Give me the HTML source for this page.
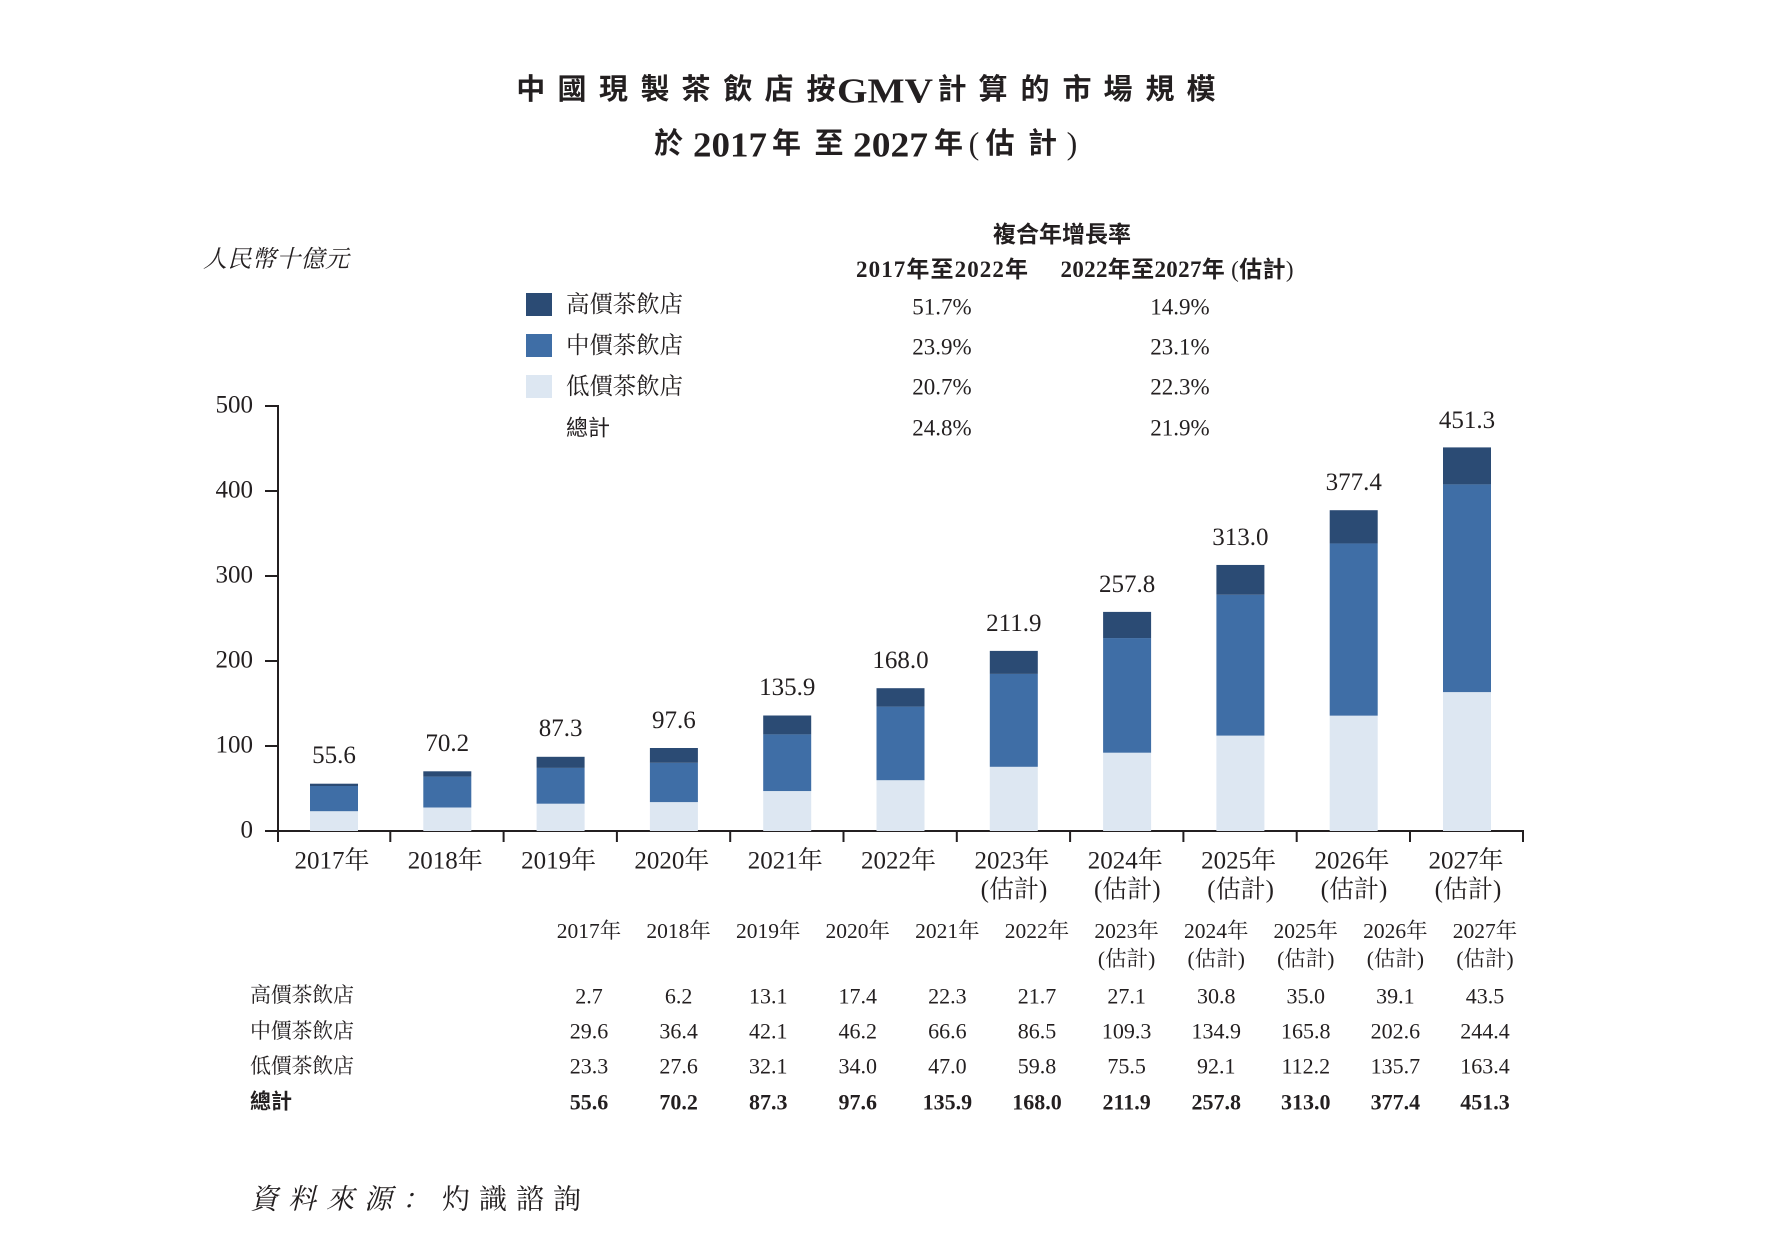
<!DOCTYPE html>
<html><head><meta charset="utf-8">
<style>
html,body{margin:0;padding:0;background:#fff;}
svg{display:block;}
.s{font-family:"Liberation Serif","Noto Serif CJK SC","Noto Serif CJK TC",serif;fill:#231f20;}
.h{font-family:"Liberation Sans","Noto Sans CJK TC","Noto Sans CJK SC",sans-serif;fill:#231f20;}
.d{fill:#2b4b74;} .m{fill:#3f6ea6;} .l{fill:#dde7f2;}
</style></head>
<body>
<svg width="1790" height="1248" viewBox="0 0 1790 1248" xmlns="http://www.w3.org/2000/svg">
<rect width="1790" height="1248" fill="#fff"/>

<!-- Title line 1 -->
<g class="h" font-size="29" font-weight="700" text-anchor="middle" dominant-baseline="central">
<text x="530.8" y="90">中</text><text x="572" y="90">國</text><text x="613.5" y="90">現</text><text x="655" y="90">製</text>
<text x="696" y="90">茶</text><text x="738" y="90">飲</text><text x="779" y="90">店</text><text x="821" y="90">按</text>
<text x="952" y="90">計</text><text x="993" y="90">算</text><text x="1035" y="90">的</text><text x="1077" y="90">市</text>
<text x="1118" y="90">場</text><text x="1160" y="90">規</text><text x="1201" y="90">模</text>
<text x="668.5" y="144">於</text><text x="786.5" y="144">年</text><text x="829" y="144">至</text><text x="948.5" y="144">年</text>
<text x="1000" y="144">估</text><text x="1042.5" y="144">計</text>
</g>
<g class="s" font-weight="700" text-anchor="middle" dominant-baseline="central">
<text x="885" y="91" font-size="35" textLength="96" lengthAdjust="spacingAndGlyphs">GMV</text>
<text x="730" y="145" font-size="35" textLength="74" lengthAdjust="spacingAndGlyphs">2017</text>
<text x="890.5" y="145" font-size="35" textLength="75" lengthAdjust="spacingAndGlyphs">2027</text>
</g>
<g class="s" font-size="32" text-anchor="middle" dominant-baseline="central">
<text x="974" y="143">(</text><text x="1072" y="143">)</text>
</g>

<!-- Y unit label -->
<text class="s" x="203" y="260" font-size="24" font-style="italic" dominant-baseline="central" textLength="146">人民幣十億元</text>

<!-- Legend -->
<rect class="d" x="526" y="293" width="26" height="23"/>
<rect class="m" x="526" y="334" width="26" height="23"/>
<rect class="l" x="526" y="375" width="26" height="23"/>
<g class="s" font-size="23.5" dominant-baseline="central">
<text x="566" y="305" textLength="117">高價茶飲店</text>
<text x="566" y="346" textLength="117">中價茶飲店</text>
<text x="566" y="387" textLength="117">低價茶飲店</text>
</g>
<text class="h" x="566" y="428" font-size="22" dominant-baseline="central">總計</text>

<!-- CAGR header -->
<text class="h" x="1062" y="234" font-size="23" font-weight="700" text-anchor="middle" dominant-baseline="central">複合年增長率</text>
<text x="942" y="269" font-size="23" font-weight="700" text-anchor="middle" dominant-baseline="central" textLength="172"><tspan class="s">2017</tspan><tspan class="h">年至</tspan><tspan class="s">2022</tspan><tspan class="h">年</tspan></text>
<text x="1177" y="269" font-size="23" font-weight="700" text-anchor="middle" dominant-baseline="central" textLength="233"><tspan class="s">2022</tspan><tspan class="h">年至</tspan><tspan class="s">2027</tspan><tspan class="h">年</tspan><tspan class="s" font-weight="400"> (</tspan><tspan class="h">估計</tspan><tspan class="s" font-weight="400">)</tspan></text>
<g class="s" font-size="23" text-anchor="middle" dominant-baseline="central">
<text x="942" y="307">51.7%</text><text x="1180" y="307">14.9%</text>
<text x="942" y="347">23.9%</text><text x="1180" y="347">23.1%</text>
<text x="942" y="387">20.7%</text><text x="1180" y="387">22.3%</text>
<text x="942" y="428">24.8%</text><text x="1180" y="428">21.9%</text>
</g>

<!-- Y axis -->
<g stroke="#231f20" stroke-width="2" fill="none">
<line x1="278" y1="405" x2="278" y2="842"/>
<line x1="265" y1="831" x2="1524" y2="831"/>
<line x1="265" y1="406" x2="278" y2="406"/>
<line x1="265" y1="491" x2="278" y2="491"/>
<line x1="265" y1="576" x2="278" y2="576"/>
<line x1="265" y1="661" x2="278" y2="661"/>
<line x1="265" y1="746" x2="278" y2="746"/>
<line x1="390.3" y1="831" x2="390.3" y2="842"/>
<line x1="503.6" y1="831" x2="503.6" y2="842"/>
<line x1="616.9" y1="831" x2="616.9" y2="842"/>
<line x1="730.2" y1="831" x2="730.2" y2="842"/>
<line x1="843.5" y1="831" x2="843.5" y2="842"/>
<line x1="956.8" y1="831" x2="956.8" y2="842"/>
<line x1="1070.1" y1="831" x2="1070.1" y2="842"/>
<line x1="1183.4" y1="831" x2="1183.4" y2="842"/>
<line x1="1296.7" y1="831" x2="1296.7" y2="842"/>
<line x1="1410" y1="831" x2="1410" y2="842"/>
<line x1="1523" y1="831" x2="1523" y2="842"/>
</g>
<g class="s" font-size="25" text-anchor="end" dominant-baseline="central">
<text x="253" y="405">500</text>
<text x="253" y="490">400</text>
<text x="253" y="575">300</text>
<text x="253" y="660">200</text>
<text x="253" y="745">100</text>
<text x="253" y="830">0</text>
</g>

<!-- Bars -->
<g>
<rect class="l" x="310" y="811.2" width="48" height="19.8"/><rect class="m" x="310" y="786.0" width="48" height="25.2"/><rect class="d" x="310" y="783.7" width="48" height="2.3"/>
<rect class="l" x="423.3" y="807.5" width="48" height="23.5"/><rect class="m" x="423.3" y="776.6" width="48" height="30.9"/><rect class="d" x="423.3" y="771.3" width="48" height="5.3"/>
<rect class="l" x="536.6" y="803.7" width="48" height="27.3"/><rect class="m" x="536.6" y="767.9" width="48" height="35.8"/><rect class="d" x="536.6" y="756.8" width="48" height="11.1"/>
<rect class="l" x="649.9" y="802.1" width="48" height="28.9"/><rect class="m" x="649.9" y="762.8" width="48" height="39.3"/><rect class="d" x="649.9" y="748.0" width="48" height="14.8"/>
<rect class="l" x="763.2" y="791.05" width="48" height="39.95"/><rect class="m" x="763.2" y="734.4" width="48" height="56.65"/><rect class="d" x="763.2" y="715.5" width="48" height="18.9"/>
<rect class="l" x="876.5" y="780.2" width="48" height="50.8"/><rect class="m" x="876.5" y="706.6" width="48" height="73.6"/><rect class="d" x="876.5" y="688.2" width="48" height="18.4"/>
<rect class="l" x="989.8" y="766.8" width="48" height="64.2"/><rect class="m" x="989.8" y="673.9" width="48" height="92.9"/><rect class="d" x="989.8" y="650.9" width="48" height="23.0"/>
<rect class="l" x="1103.1" y="752.7" width="48" height="78.3"/><rect class="m" x="1103.1" y="638.05" width="48" height="114.65"/><rect class="d" x="1103.1" y="611.9" width="48" height="26.15"/>
<rect class="l" x="1216.4" y="735.6" width="48" height="95.4"/><rect class="m" x="1216.4" y="594.7" width="48" height="140.9"/><rect class="d" x="1216.4" y="564.95" width="48" height="29.75"/>
<rect class="l" x="1329.7" y="715.65" width="48" height="115.35"/><rect class="m" x="1329.7" y="543.45" width="48" height="172.2"/><rect class="d" x="1329.7" y="510.2" width="48" height="33.25"/>
<rect class="l" x="1443" y="692.1" width="48" height="138.9"/><rect class="m" x="1443" y="484.4" width="48" height="207.7"/><rect class="d" x="1443" y="447.4" width="48" height="37.0"/>
</g>

<!-- Bar total labels -->
<g class="s" font-size="25" text-anchor="middle">
<text x="334" y="763">55.6</text>
<text x="447.3" y="751">70.2</text>
<text x="560.6" y="736">87.3</text>
<text x="673.9" y="728">97.6</text>
<text x="787.2" y="695">135.9</text>
<text x="900.5" y="668">168.0</text>
<text x="1013.8" y="631">211.9</text>
<text x="1127.1" y="592">257.8</text>
<text x="1240.4" y="545">313.0</text>
<text x="1353.7" y="490">377.4</text>
<text x="1467" y="428">451.3</text>
</g>

<!-- X labels -->
<g class="s" font-size="25" text-anchor="middle" dominant-baseline="central">
<text x="332" y="861">2017年</text>
<text x="445.3" y="861">2018年</text>
<text x="558.6" y="861">2019年</text>
<text x="671.9" y="861">2020年</text>
<text x="785.2" y="861">2021年</text>
<text x="898.5" y="861">2022年</text>
<text x="1012" y="861">2023年</text>
<text x="1125.3" y="861">2024年</text>
<text x="1238.6" y="861">2025年</text>
<text x="1352" y="861">2026年</text>
<text x="1466" y="861">2027年</text>
<text x="1014" y="890">(估計)</text>
<text x="1127.3" y="890">(估計)</text>
<text x="1240.6" y="890">(估計)</text>
<text x="1354" y="890">(估計)</text>
<text x="1468" y="890">(估計)</text>
</g>

<!-- Table header -->
<g class="s" font-size="21.5" text-anchor="middle" dominant-baseline="central">
<text x="589" y="931">2017年</text>
<text x="678.6" y="931">2018年</text>
<text x="768.2" y="931">2019年</text>
<text x="857.8" y="931">2020年</text>
<text x="947.4" y="931">2021年</text>
<text x="1037" y="931">2022年</text>
<text x="1126.6" y="931">2023年</text>
<text x="1216.2" y="931">2024年</text>
<text x="1305.8" y="931">2025年</text>
<text x="1395.4" y="931">2026年</text>
<text x="1485" y="931">2027年</text>
<text x="1126.6" y="959">(估計)</text>
<text x="1216.2" y="959">(估計)</text>
<text x="1305.8" y="959">(估計)</text>
<text x="1395.4" y="959">(估計)</text>
<text x="1485" y="959">(估計)</text>
</g>

<!-- Table rows -->
<g class="s" font-size="21" dominant-baseline="central">
<text x="250" y="995" textLength="104">高價茶飲店</text>
<text x="250" y="1031" textLength="104">中價茶飲店</text>
<text x="250" y="1066" textLength="104">低價茶飲店</text>
</g>
<text class="h" x="250" y="1102" font-size="21" font-weight="700" dominant-baseline="central">總計</text>
<g class="s" font-size="22" text-anchor="middle" dominant-baseline="central">
<text x="589" y="996">2.7</text><text x="678.6" y="996">6.2</text><text x="768.2" y="996">13.1</text><text x="857.8" y="996">17.4</text><text x="947.4" y="996">22.3</text><text x="1037" y="996">21.7</text><text x="1126.6" y="996">27.1</text><text x="1216.2" y="996">30.8</text><text x="1305.8" y="996">35.0</text><text x="1395.4" y="996">39.1</text><text x="1485" y="996">43.5</text>
<text x="589" y="1031">29.6</text><text x="678.6" y="1031">36.4</text><text x="768.2" y="1031">42.1</text><text x="857.8" y="1031">46.2</text><text x="947.4" y="1031">66.6</text><text x="1037" y="1031">86.5</text><text x="1126.6" y="1031">109.3</text><text x="1216.2" y="1031">134.9</text><text x="1305.8" y="1031">165.8</text><text x="1395.4" y="1031">202.6</text><text x="1485" y="1031">244.4</text>
<text x="589" y="1066">23.3</text><text x="678.6" y="1066">27.6</text><text x="768.2" y="1066">32.1</text><text x="857.8" y="1066">34.0</text><text x="947.4" y="1066">47.0</text><text x="1037" y="1066">59.8</text><text x="1126.6" y="1066">75.5</text><text x="1216.2" y="1066">92.1</text><text x="1305.8" y="1066">112.2</text><text x="1395.4" y="1066">135.7</text><text x="1485" y="1066">163.4</text>
</g>
<g class="s" font-size="22" font-weight="700" text-anchor="middle" dominant-baseline="central">
<text x="589" y="1102">55.6</text><text x="678.6" y="1102">70.2</text><text x="768.2" y="1102">87.3</text><text x="857.8" y="1102">97.6</text><text x="947.4" y="1102">135.9</text><text x="1037" y="1102">168.0</text><text x="1126.6" y="1102">211.9</text><text x="1216.2" y="1102">257.8</text><text x="1305.8" y="1102">313.0</text><text x="1395.4" y="1102">377.4</text><text x="1485" y="1102">451.3</text>
</g>

<!-- Source -->
<text class="s" x="250" y="1200" font-size="28" font-style="italic" letter-spacing="10" dominant-baseline="central">資料來源：</text>
<text class="s" x="442" y="1200" font-size="28" letter-spacing="9" dominant-baseline="central">灼識諮詢</text>
</svg>
</body></html>
